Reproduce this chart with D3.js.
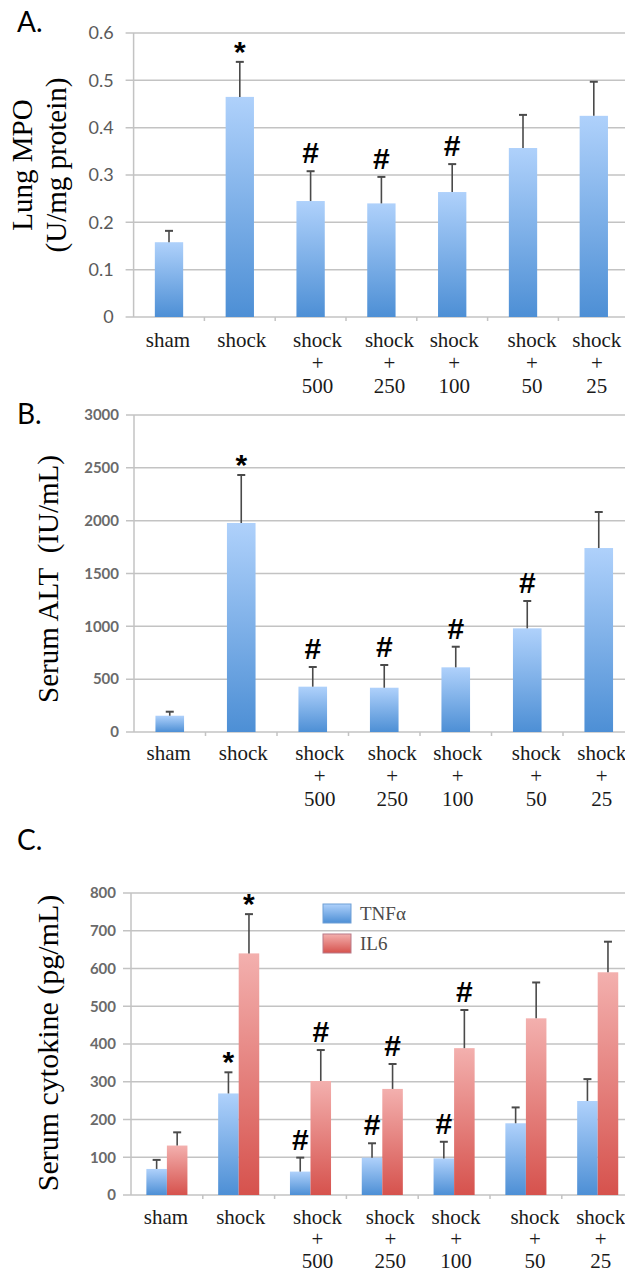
<!DOCTYPE html>
<html><head><meta charset="utf-8">
<script src="https://cdn.jsdelivr.net/npm/d3@7"></script>
<style>body{margin:0;background:#fff}svg{display:block}</style>
</head><body>
<script>
// ---------- data ----------
const categories = ["sham", "shock", "shock + 500", "shock + 250", "shock + 100", "shock + 50", "shock + 25"];

const mpoMean = [0.158, 0.465, 0.245, 0.240, 0.264, 0.357, 0.425];
const mpoSD   = [0.024, 0.074, 0.063, 0.056, 0.059, 0.070, 0.072];
const mpoSig  = ["", "*", "#", "#", "#", "", ""];
const mpoTicks = [0, 0.1, 0.2, 0.3, 0.4, 0.5, 0.6];

const altMean = [154, 1978, 429, 419, 612, 981, 1741];
const altSD   = [38, 454, 186, 215, 195, 259, 341];
const altSig  = ["", "*", "#", "#", "#", "#", ""];
const altTicks = [0, 500, 1000, 1500, 2000, 2500, 3000];

const tnfMean = [69, 269, 62, 99, 97, 190, 249];
const tnfSD   = [24, 56, 37, 38, 44, 42, 58];
const tnfSig  = ["", "*", "#", "#", "#", "", ""];
const il6Mean = [131, 640, 302, 281, 389, 468, 590];
const il6SD   = [35, 104, 82, 66, 101, 95, 81];
const il6Sig  = ["", "*", "#", "#", "#", "", ""];
const cytTicks = [0, 100, 200, 300, 400, 500, 600, 700, 800];
const seriesNames = ["TNFα", "IL6"];

// ---------- layout / style ----------
const W = 625, H = 1276;
const labelNudge = [-1, 2, 7, 8, 2, 9, 3];
const serif = "'Liberation Serif', 'Times New Roman', serif";
const sans = "Lato, 'Open Sans', sans-serif";

const svg = d3.select("body").append("svg").attr("width", W).attr("height", H);
const defs = svg.append("defs");
function gradient(id, top, bottom) {
  const g = defs.append("linearGradient").attr("id", id)
    .attr("x1", 0).attr("y1", 0).attr("x2", 0).attr("y2", 1);
  g.append("stop").attr("offset", "0%").attr("stop-color", top);
  g.append("stop").attr("offset", "100%").attr("stop-color", bottom);
}
gradient("gBlue", "#afd1fb", "#4d8fd5");
gradient("gRed", "#f3b0ae", "#d6524d");

function panel(cfg) {
  const g = svg.append("g");
  const x = d3.scaleBand().domain(categories)
    .range([cfg.x0, cfg.x0 + cfg.step * categories.length]).padding(0);
  const y = d3.scaleLinear().domain([0, cfg.max]).range([cfg.yBot, cfg.yTop]);

  // gridlines
  g.append("g").selectAll("line").data(cfg.ticks.filter(t => t > 0)).join("line")
    .attr("x1", cfg.x0 - 8).attr("x2", W)
    .attr("y1", d => y(d)).attr("y2", d => y(d))
    .attr("stroke", "#c3c3c3").attr("stroke-width", 1.5);
  // axis lines
  g.append("line").attr("x1", cfg.x0).attr("x2", cfg.x0)
    .attr("y1", y(cfg.max)).attr("y2", y(0)).attr("stroke", "#c3c3c3").attr("stroke-width", 1.5);
  g.append("line").attr("x1", cfg.x0 - 8).attr("x2", W)
    .attr("y1", y(0)).attr("y2", y(0)).attr("stroke", "#c3c3c3").attr("stroke-width", 1.5);
  // category boundary ticks
  g.append("g").selectAll("line").data(categories.slice(1)).join("line")
    .attr("x1", d => x(d)).attr("x2", d => x(d))
    .attr("y1", y(0)).attr("y2", y(0) + 4)
    .attr("stroke", "#c3c3c3").attr("stroke-width", 1.5);

  // y tick labels via axis
  const ax = g.append("g").attr("transform", `translate(${cfg.x0},0)`)
    .call(d3.axisLeft(y).tickValues(cfg.ticks).tickSize(0).tickPadding(cfg.tickPad).tickFormat(cfg.fmt));
  ax.select(".domain").remove();
  ax.selectAll("text").attr("font-family", sans).attr("font-size", cfg.tickSize)
    .attr("font-weight", cfg.tickWeight).attr("fill", cfg.tickColor);

  // x labels
  const xl = g.append("g").selectAll("text").data(categories).join("text")
    .attr("x", (d, i) => x(d) + x.bandwidth() / 2 + labelNudge[i])
    .attr("y", y(0) + cfg.labelOff)
    .attr("text-anchor", "middle").attr("font-family", serif).attr("font-size", 21).attr("fill", "#1a1a1a");
  xl.each(function (d) {
    const t = d3.select(this);
    d.split(" ").forEach((line, k) => {
      t.append("tspan").attr("x", t.attr("x")).attr("dy", k === 0 ? 0 : cfg.lineStep).text(line);
    });
  });

  // bars
  const n = cfg.series.length;
  const bw = x.bandwidth() * cfg.barFrac;
  cfg.series.forEach((s, si) => {
    const cx = (c) => x(c) + x.bandwidth() / 2 + (si - (n - 1) / 2) * bw;
    const sg = g.append("g");
    sg.selectAll("rect").data(categories).join("rect")
      .attr("x", c => cx(c) - bw / 2).attr("width", bw)
      .attr("y", (c, i) => y(s.mean[i])).attr("height", (c, i) => y(0) - y(s.mean[i]))
      .attr("fill", `url(#${s.grad})`);
    // error bars
    sg.selectAll("line.v").data(categories).join("line").attr("class", "v")
      .attr("x1", cx).attr("x2", cx)
      .attr("y1", (c, i) => y(s.mean[i])).attr("y2", (c, i) => y(s.mean[i] + s.sd[i]))
      .attr("stroke", "#4a4a4a").attr("stroke-width", 1.6);
    sg.selectAll("line.c").data(categories).join("line").attr("class", "c")
      .attr("x1", c => cx(c) - 4).attr("x2", c => cx(c) + 4)
      .attr("y1", (c, i) => y(s.mean[i] + s.sd[i])).attr("y2", (c, i) => y(s.mean[i] + s.sd[i]))
      .attr("stroke", "#4a4a4a").attr("stroke-width", 2);
    // significance marks
    sg.selectAll("text").data(categories).join("text")
      .attr("x", cx)
      .attr("y", (c, i) => y(s.mean[i] + s.sd[i]) - (s.sig[i] === "*" ? 0 : 8))
      .attr("text-anchor", "middle").attr("font-family", "'Liberation Sans', Arial, sans-serif")
      .attr("font-weight", "bold").attr("font-size", 30).attr("fill", "#000")
      .text((c, i) => s.sig[i]);
  });

  // y title
  const tt = g.append("text")
    .attr("transform", `translate(${cfg.titleX},${cfg.titleY}) rotate(-90)`)
    .attr("text-anchor", "middle").attr("font-family", serif)
    .attr("font-size", cfg.titleSize).attr("fill", "#000");
  cfg.title.forEach((line, k) => {
    tt.append("tspan").attr("x", 0).attr("dy", k === 0 ? 0 : cfg.titleSize * 1.17).text(line);
  });

  // panel letter
  svg.append("text").attr("x", 17).attr("y", cfg.letterY).attr("font-family", sans)
    .attr("font-size", 28).attr("fill", "#000").text(cfg.letter);
  return { x, y, g };
}

panel({
  letter: "A.", letterY: 32, x0: 133.6, step: 70.8, yTop: 33, yBot: 317, max: 0.6,
  ticks: mpoTicks, fmt: d => d === 0 ? "0" : d3.format(".1f")(d),
  tickSize: 18, tickWeight: "normal", tickColor: "#5a5a5a", tickPad: 20, labelOff: 30, lineStep: 23,
  barFrac: 0.4, series: [{ mean: mpoMean, sd: mpoSD, sig: mpoSig, grad: "gBlue" }],
  title: ["Lung MPO", "(U/mg protein)"], titleX: 32, titleY: 165, titleSize: 29
});
panel({
  letter: "B.", letterY: 424, x0: 134, step: 71.5, yTop: 415, yBot: 732, max: 3000,
  ticks: altTicks, fmt: d3.format("d"),
  tickSize: 15, tickWeight: "bold", tickColor: "#6a6a6a", tickPad: 15, labelOff: 28, lineStep: 23,
  barFrac: 0.4, series: [{ mean: altMean, sd: altSD, sig: altSig, grad: "gBlue" }],
  title: ["Serum ALT\u00a0\u00a0(IU/mL)"], titleX: 58, titleY: 579, titleSize: 29
});
panel({
  letter: "C.", letterY: 850, x0: 131, step: 71.8, yTop: 893, yBot: 1195, max: 800,
  ticks: cytTicks, fmt: d3.format("d"),
  tickSize: 15, tickWeight: "bold", tickColor: "#6a6a6a", tickPad: 15, labelOff: 29, lineStep: 22,
  barFrac: 0.286, series: [
    { mean: tnfMean, sd: tnfSD, sig: tnfSig, grad: "gBlue" },
    { mean: il6Mean, sd: il6SD, sig: il6Sig, grad: "gRed" }],
  title: ["Serum cytokine (pg/mL)"], titleX: 58, titleY: 1043, titleSize: 30
});

// legend
const leg = svg.append("g").attr("transform", "translate(323,904)");
seriesNames.forEach((name, i) => {
  leg.append("rect").attr("x", 0).attr("y", i * 30).attr("width", 28).attr("height", 19)
    .attr("fill", `url(#${i === 0 ? "gBlue" : "gRed"})`)
    .attr("stroke", i === 0 ? "#6f9fd6" : "#b97a88").attr("stroke-width", 1);
  leg.append("text").attr("x", 37).attr("y", i * 30 + 16)
    .attr("font-family", serif).attr("font-size", 19).attr("fill", "#4a4a4a").text(name);
});
</script>
</body></html>
